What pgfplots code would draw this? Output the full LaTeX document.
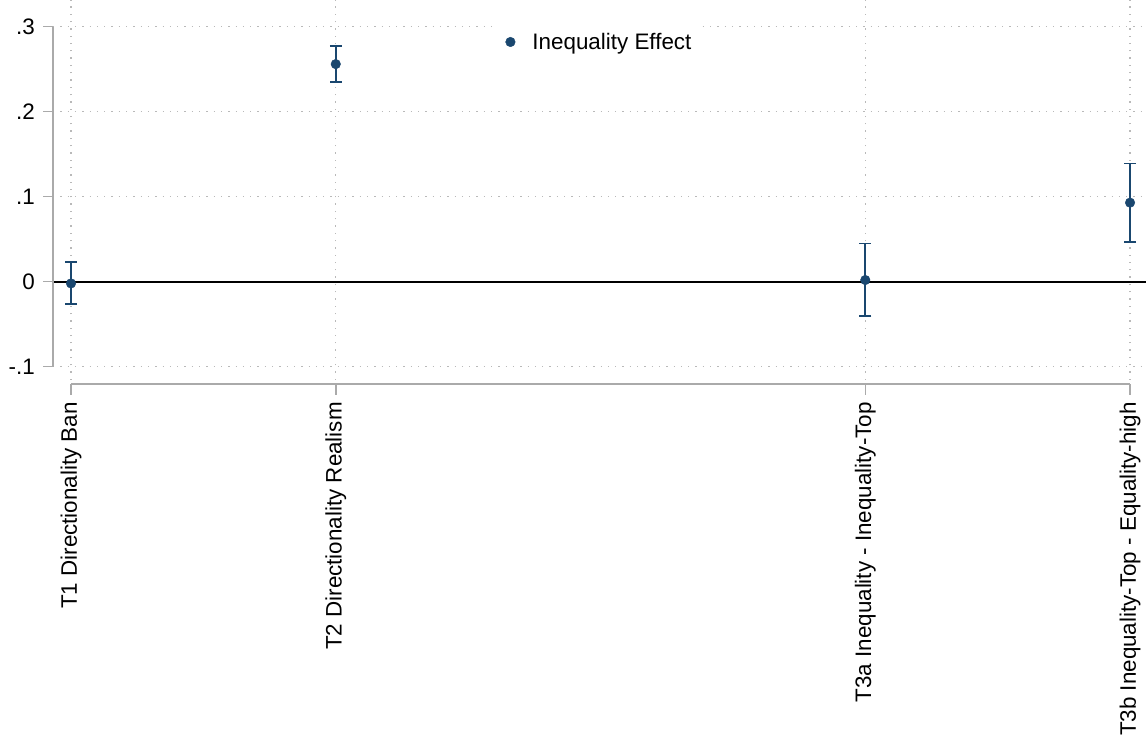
\documentclass[border=0pt]{standalone}
\usepackage{pgfplots}
\pgfplotsset{compat=1.18}
\usepackage{pgfplotstable}
\usepackage{fontspec}
\setmainfont{Liberation Sans}

\definecolor{navy}{RGB}{26,71,111}
\definecolor{axisgray}{RGB}{170,170,170}
\definecolor{gridgray}{RGB}{185,185,185}
\newcommand{\chartfont}{\fontsize{22.4bp}{26bp}\selectfont}

% point estimates with upper / lower distance to the 95% bounds
\pgfplotstableread{
pos est    plus  minus
1   -0.002 0.025 0.024
2   0.256  0.021 0.021
4   0.002  0.043 0.042
5   0.093  0.046 0.046
}\coefs

\begin{document}
\begin{tikzpicture}[x=1bp,y=1bp]
\begin{axis}[
  at={(53bp,359bp)}, anchor=south west,
  scale only axis, width=1093bp, height=380bp,
  xmin=0.932, xmax=5.0604, ymin=-0.1156, ymax=0.3314,
  clip=false,
  axis line style={draw=none},
  tick style={draw=none},
  xtick={1,2,4,5},
  xticklabels={T1 Directionality Ban, T2 Directionality Realism,
    T3a Inequality - Inequality-Top, T3b Inequality-Top - Equality-high},
  ytick={-0.1,0,0.1,0.2,0.3},
  yticklabels={-.1,0,.1,.2,.3},
  grid=major,
  major grid style={gridgray, line width=1.3bp, dash pattern=on 1.3bp off 6bp},
  tick label style={font=\chartfont},
  xticklabel style={rotate=90, anchor=east, inner sep=0pt},
  xticklabel shift=22bp,
  yticklabel style={anchor=east, inner sep=0pt},
  yticklabel shift=18bp,
  legend style={at={(0.5000,0.8895)}, anchor=center, draw=none, fill=white,
    font=\chartfont, inner xsep=8bp, inner ysep=6bp},
  legend image code/.code={\draw[#1] plot coordinates {(0bp,0bp)};
    \path[draw=none, fill=none] (0bp,0bp) -- (20bp,0bp);},
]
% reference line at zero
\draw[black, line width=2.2bp] (axis cs:0.932,0) -- (axis cs:5.0604,0);

% y axis line and its ticks
\draw[axisgray, line width=1.5bp] (axis cs:0.932,-0.1) -- (axis cs:0.932,0.3);
\pgfplotsinvokeforeach{-0.1,0,0.1,0.2,0.3}{
  \draw[axisgray, line width=1.5bp] (axis cs:0.932,#1) -- ([xshift=-10bp]axis cs:0.932,#1);
}
% x axis line, set slightly below the plot region, and its ticks
\draw[axisgray, line width=1.5bp] (axis cs:1,-0.12035) -- (axis cs:5,-0.12035);
\pgfplotsinvokeforeach{1,2,4,5}{
  \draw[axisgray, line width=1.5bp] (axis cs:#1,-0.12035) -- ([yshift=-11bp]axis cs:#1,-0.12035);
}

\addplot[only marks, mark=*, mark size=4.8bp, color=navy,
  mark options={fill=navy, draw=navy},
  error bars/.cd, y dir=both, y explicit,
  error bar style={line width=1.6bp, navy},
  error mark options={rotate=90, mark size=6bp, line width=1.6bp, navy}]
  table[x=pos, y=est, y error plus=plus, y error minus=minus] {\coefs};
\addlegendentry{Inequality Effect}
\end{axis}
\pgfresetboundingbox
\path (0,0) rectangle (1146,739);
\end{tikzpicture}
\end{document}
